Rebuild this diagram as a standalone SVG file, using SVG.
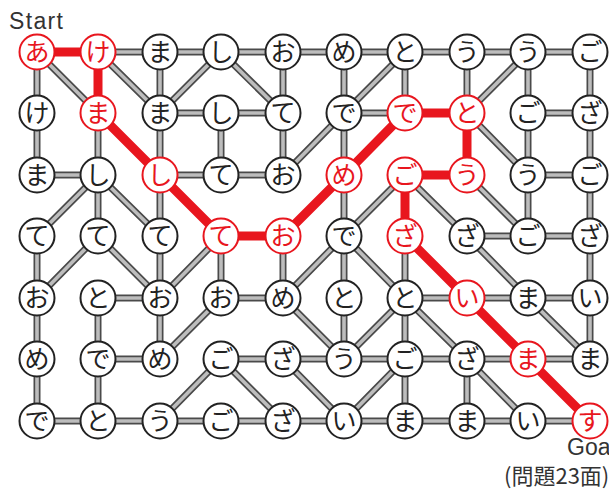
<svg xmlns="http://www.w3.org/2000/svg" xmlns:xlink="http://www.w3.org/1999/xlink" width="609" height="493" viewBox="0 0 609 493">
<style>
.eo{fill:none;stroke:#4a4a4a;stroke-width:7;stroke-linecap:butt}
.ei{fill:none;stroke:#bdbdbd;stroke-width:3.6;stroke-linecap:butt}
.red{fill:none;stroke:#e8161e;stroke-width:9;stroke-linejoin:round;stroke-linecap:round}
.n circle{fill:#fff;stroke:#222;stroke-width:2}
.n text{font-family:"Noto Sans CJK JP",sans-serif;font-size:25px;fill:#222;text-anchor:middle}
.r circle{stroke:#e8161e}
.r text{fill:#e8161e}
.lbl{font-family:"Liberation Sans",Arial,sans-serif;font-size:23px;fill:#333}
.lbj{font-family:"Noto Sans CJK JP",sans-serif;font-size:22px;fill:#333}
</style>
<defs>
<path id="edges" d="M98 52H590
M37 52V113 M37 52L98 113 M98 52L160 113 M160 52V113 M221 52L160 113 M221 52L283 113 M283 52V113 M344 52V113 M405 52L344 113 M405 52V113 M467 52V113 M528 52L467 113 M528 52V113 M590 52V113
M160 113H283 M344 113H405 M528 113H590
M37 113V175 M98 113V175 M160 113V175 M221 113V175 M283 113V175 M344 113V175 M344 113L283 175 M467 113L528 175 M528 113V175 M590 113V175
M37 175H98 M160 175H283 M528 175H590
M98 175L37 236 M98 175V236 M98 175L160 236 M160 175V236 M344 175V236 M405 175L344 236 M405 175L467 236 M467 175L528 236 M528 175V236 M590 175V236
M467 236H590
M37 236V298 M98 236L37 298 M98 236L160 298 M160 236V298 M221 236L160 298 M221 236V298 M283 236V298 M344 236L283 298 M344 236V298 M344 236L405 298 M405 236V298 M467 236L528 298 M590 236V298
M98 298H160 M221 298H283 M405 298H590
M37 298V359 M98 298V359 M160 298V359 M221 298L160 359 M283 298L344 359 M344 298V359 M405 298L344 359 M405 298V359 M405 298L467 359 M528 298L590 359 M590 298V359
M98 359H160 M221 359H590
M37 359V421 M98 359V421 M221 359L160 421 M221 359L283 421 M283 359L344 421 M405 359L344 421 M405 359V421 M467 359V421 M467 359L528 421
M37 421H590"/>
</defs>
<g id="connectors">
<use href="#edges" xlink:href="#edges" class="eo"/>
<use href="#edges" xlink:href="#edges" class="ei"/>
<path id="solution" class="red" d="M37 52H98V113L160 175L221 236H283L344 175L405 113H467V175H405V236L467 298L528 359L590 421"/>
</g>
<g id="nodes">
<g id="n00" class="n r"><circle cx="37" cy="52" r="17.5"/><text x="37" y="61">あ</text></g>
<g id="n01" class="n r"><circle cx="98" cy="52" r="17.5"/><text x="98" y="61">け</text></g>
<g id="n02" class="n"><circle cx="160" cy="52" r="17.5"/><text x="160" y="61">ま</text></g>
<g id="n03" class="n"><circle cx="221" cy="52" r="17.5"/><text x="221" y="61">し</text></g>
<g id="n04" class="n"><circle cx="283" cy="52" r="17.5"/><text x="283" y="61">お</text></g>
<g id="n05" class="n"><circle cx="344" cy="52" r="17.5"/><text x="344" y="61">め</text></g>
<g id="n06" class="n"><circle cx="405" cy="52" r="17.5"/><text x="405" y="61">と</text></g>
<g id="n07" class="n"><circle cx="467" cy="52" r="17.5"/><text x="467" y="61">う</text></g>
<g id="n08" class="n"><circle cx="528" cy="52" r="17.5"/><text x="528" y="61">う</text></g>
<g id="n09" class="n"><circle cx="590" cy="52" r="17.5"/><text x="590" y="61">ご</text></g>

<g id="n10" class="n"><circle cx="37" cy="113" r="17.5"/><text x="37" y="122">け</text></g>
<g id="n11" class="n r"><circle cx="98" cy="113" r="17.5"/><text x="98" y="122">ま</text></g>
<g id="n12" class="n"><circle cx="160" cy="113" r="17.5"/><text x="160" y="122">ま</text></g>
<g id="n13" class="n"><circle cx="221" cy="113" r="17.5"/><text x="221" y="122">し</text></g>
<g id="n14" class="n"><circle cx="283" cy="113" r="17.5"/><text x="283" y="122">て</text></g>
<g id="n15" class="n"><circle cx="344" cy="113" r="17.5"/><text x="344" y="122">で</text></g>
<g id="n16" class="n r"><circle cx="405" cy="113" r="17.5"/><text x="405" y="122">で</text></g>
<g id="n17" class="n r"><circle cx="467" cy="113" r="17.5"/><text x="467" y="122">と</text></g>
<g id="n18" class="n"><circle cx="528" cy="113" r="17.5"/><text x="528" y="122">ご</text></g>
<g id="n19" class="n"><circle cx="590" cy="113" r="17.5"/><text x="590" y="122">ざ</text></g>

<g id="n20" class="n"><circle cx="37" cy="175" r="17.5"/><text x="37" y="184">ま</text></g>
<g id="n21" class="n"><circle cx="98" cy="175" r="17.5"/><text x="98" y="184">し</text></g>
<g id="n22" class="n r"><circle cx="160" cy="175" r="17.5"/><text x="160" y="184">し</text></g>
<g id="n23" class="n"><circle cx="221" cy="175" r="17.5"/><text x="221" y="184">て</text></g>
<g id="n24" class="n"><circle cx="283" cy="175" r="17.5"/><text x="283" y="184">お</text></g>
<g id="n25" class="n r"><circle cx="344" cy="175" r="17.5"/><text x="344" y="184">め</text></g>
<g id="n26" class="n r"><circle cx="405" cy="175" r="17.5"/><text x="405" y="184">ご</text></g>
<g id="n27" class="n r"><circle cx="467" cy="175" r="17.5"/><text x="467" y="184">う</text></g>
<g id="n28" class="n"><circle cx="528" cy="175" r="17.5"/><text x="528" y="184">う</text></g>
<g id="n29" class="n"><circle cx="590" cy="175" r="17.5"/><text x="590" y="184">ご</text></g>

<g id="n30" class="n"><circle cx="37" cy="236" r="17.5"/><text x="37" y="245">て</text></g>
<g id="n31" class="n"><circle cx="98" cy="236" r="17.5"/><text x="98" y="245">て</text></g>
<g id="n32" class="n"><circle cx="160" cy="236" r="17.5"/><text x="160" y="245">て</text></g>
<g id="n33" class="n r"><circle cx="221" cy="236" r="17.5"/><text x="221" y="245">て</text></g>
<g id="n34" class="n r"><circle cx="283" cy="236" r="17.5"/><text x="283" y="245">お</text></g>
<g id="n35" class="n"><circle cx="344" cy="236" r="17.5"/><text x="344" y="245">で</text></g>
<g id="n36" class="n r"><circle cx="405" cy="236" r="17.5"/><text x="405" y="245">ざ</text></g>
<g id="n37" class="n"><circle cx="467" cy="236" r="17.5"/><text x="467" y="245">ざ</text></g>
<g id="n38" class="n"><circle cx="528" cy="236" r="17.5"/><text x="528" y="245">ご</text></g>
<g id="n39" class="n"><circle cx="590" cy="236" r="17.5"/><text x="590" y="245">ざ</text></g>

<g id="n40" class="n"><circle cx="37" cy="298" r="17.5"/><text x="37" y="307">お</text></g>
<g id="n41" class="n"><circle cx="98" cy="298" r="17.5"/><text x="98" y="307">と</text></g>
<g id="n42" class="n"><circle cx="160" cy="298" r="17.5"/><text x="160" y="307">お</text></g>
<g id="n43" class="n"><circle cx="221" cy="298" r="17.5"/><text x="221" y="307">お</text></g>
<g id="n44" class="n"><circle cx="283" cy="298" r="17.5"/><text x="283" y="307">め</text></g>
<g id="n45" class="n"><circle cx="344" cy="298" r="17.5"/><text x="344" y="307">と</text></g>
<g id="n46" class="n"><circle cx="405" cy="298" r="17.5"/><text x="405" y="307">と</text></g>
<g id="n47" class="n r"><circle cx="467" cy="298" r="17.5"/><text x="467" y="307">い</text></g>
<g id="n48" class="n"><circle cx="528" cy="298" r="17.5"/><text x="528" y="307">ま</text></g>
<g id="n49" class="n"><circle cx="590" cy="298" r="17.5"/><text x="590" y="307">い</text></g>

<g id="n50" class="n"><circle cx="37" cy="359" r="17.5"/><text x="37" y="368">め</text></g>
<g id="n51" class="n"><circle cx="98" cy="359" r="17.5"/><text x="98" y="368">で</text></g>
<g id="n52" class="n"><circle cx="160" cy="359" r="17.5"/><text x="160" y="368">め</text></g>
<g id="n53" class="n"><circle cx="221" cy="359" r="17.5"/><text x="221" y="368">ご</text></g>
<g id="n54" class="n"><circle cx="283" cy="359" r="17.5"/><text x="283" y="368">ざ</text></g>
<g id="n55" class="n"><circle cx="344" cy="359" r="17.5"/><text x="344" y="368">う</text></g>
<g id="n56" class="n"><circle cx="405" cy="359" r="17.5"/><text x="405" y="368">ご</text></g>
<g id="n57" class="n"><circle cx="467" cy="359" r="17.5"/><text x="467" y="368">ざ</text></g>
<g id="n58" class="n r"><circle cx="528" cy="359" r="17.5"/><text x="528" y="368">ま</text></g>
<g id="n59" class="n"><circle cx="590" cy="359" r="17.5"/><text x="590" y="368">ま</text></g>

<g id="n60" class="n"><circle cx="37" cy="421" r="17.5"/><text x="37" y="430">で</text></g>
<g id="n61" class="n"><circle cx="98" cy="421" r="17.5"/><text x="98" y="430">と</text></g>
<g id="n62" class="n"><circle cx="160" cy="421" r="17.5"/><text x="160" y="430">う</text></g>
<g id="n63" class="n"><circle cx="221" cy="421" r="17.5"/><text x="221" y="430">ご</text></g>
<g id="n64" class="n"><circle cx="283" cy="421" r="17.5"/><text x="283" y="430">ざ</text></g>
<g id="n65" class="n"><circle cx="344" cy="421" r="17.5"/><text x="344" y="430">い</text></g>
<g id="n66" class="n"><circle cx="405" cy="421" r="17.5"/><text x="405" y="430">ま</text></g>
<g id="n67" class="n"><circle cx="467" cy="421" r="17.5"/><text x="467" y="430">ま</text></g>
<g id="n68" class="n"><circle cx="528" cy="421" r="17.5"/><text x="528" y="430">い</text></g>
<g id="n69" class="n r"><circle cx="590" cy="421" r="17.5"/><text x="590" y="430">す</text></g>
</g>
<g id="labels">
<text class="lbl" x="9" y="29" textLength="54">Start</text>
<text class="lbl" x="567" y="455">Goal</text>
<text class="lbj" x="504" y="484">(問題23面)</text>
</g>
</svg>
